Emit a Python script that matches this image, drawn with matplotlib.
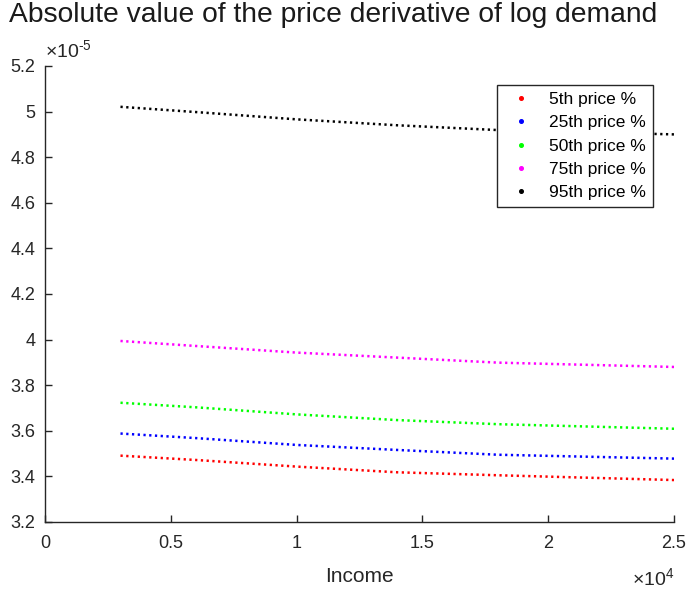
import matplotlib
matplotlib.use("Agg")
import matplotlib.pyplot as plt
from matplotlib.lines import Line2D
from matplotlib.ticker import FuncFormatter

plt.rcParams['font.family'] = ['Liberation Sans', 'DejaVu Sans']
plt.rcParams['mathtext.fontset'] = 'custom'
plt.rcParams['mathtext.rm'] = 'Liberation Sans'
plt.rcParams['mathtext.it'] = 'Liberation Sans:italic'

# values (y in units of 1e-5)
income = [3000, 6000, 10000, 14000, 18000, 25000]
p5 = [3.491, 3.472, 3.443, 3.418, 3.405, 3.384]
p25 = [3.588, 3.568, 3.538, 3.516, 3.495, 3.478]
p50 = [3.723, 3.703, 3.672, 3.647, 3.629, 3.609]
p75 = [3.994, 3.972, 3.943, 3.921, 3.899, 3.880]
p95 = [5.021, 4.998, 4.966, 4.940, 4.919, 4.900]

labels = ["5th price %", "25th price %", "50th price %", "75th price %", "95th price %"]
colors = ["#ff0000", "#0000ff", "#00ff00", "#ff00ff", "#000000"]
yticks = [3.2, 3.4, 3.6, 3.8, 4.0, 4.2, 4.4, 4.6, 4.8, 5.0, 5.2]
xticks = [0, 5000, 10000, 15000, 20000, 25000]

dark = "#262626"

fig = plt.figure(figsize=(6.86, 5.92), dpi=100)
ax = fig.add_axes([45 / 686, 70 / 592, 629 / 686, 456 / 592])

for series, c in zip([p5, p25, p50, p75, p95], colors):
    ax.plot(income, series, color=c, lw=1.8, linestyle=(0, (0.9, 1.4)))

ax.set_xlim(0, 25000)
ax.set_ylim(3.2, 5.2)
ax.set_xticks(xticks)
ax.set_yticks(yticks)
ax.xaxis.set_major_formatter(FuncFormatter(lambda v, p: f"{v / 1e4:g}"))
ax.yaxis.set_major_formatter(FuncFormatter(lambda v, p: f"{v:g}"))

for s in ["top", "right"]:
    ax.spines[s].set_visible(False)
for s in ["left", "bottom"]:
    ax.spines[s].set_color(dark)
    ax.spines[s].set_linewidth(1.0)
ax.tick_params(direction="in", length=5, width=1.0, color=dark, labelcolor=dark, labelsize=13)
ax.tick_params(axis="x", pad=9)
ax.tick_params(axis="y", pad=7)

ax.set_xlabel("Income", fontsize=15, color=dark, labelpad=11)

# exponent labels
ax.text(0, 1.01, r"$\times\mathdefault{10^{\text{-}5}}$", transform=ax.transAxes,
        fontsize=14, color=dark, ha="left", va="bottom")
ax.text(1.0, -0.1, r"$\times\mathdefault{10^{4}}$", transform=ax.transAxes,
        fontsize=14, color=dark, ha="right", va="top")

fig.text(333 / 686, 1 - 15 / 592, "Absolute value of the price derivative of log demand",
         fontsize=20.3, color="#1a1a1a", ha="center", va="center")

handles = [Line2D([], [], color=c, marker="o", markersize=2.6, linestyle="none") for c in colors]
leg = ax.legend(handles, labels, loc="upper right", bbox_to_anchor=(608 / 629, 437 / 456),
                borderaxespad=0, fontsize=12.5, frameon=True, fancybox=False,
                edgecolor=dark, framealpha=1, labelspacing=0.47, handlelength=2.0,
                handletextpad=0.6, borderpad=0.4)
leg.get_frame().set_linewidth(1.0)

fig.savefig("out.png", dpi=100)
